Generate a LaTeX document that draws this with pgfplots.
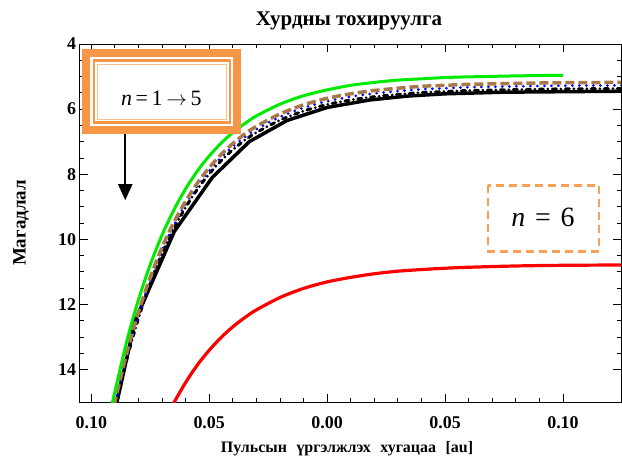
\documentclass[border=0pt]{standalone}
\usepackage{fontspec}
\setmainfont{Liberation Serif}
\usepackage{pgfplots}
\pgfplotsset{compat=1.18}
\usetikzlibrary{arrows.meta}
\definecolor{frameorange}{HTML}{F79646}
\definecolor{curvegreen}{RGB}{0,235,0}
\definecolor{curvebrown}{RGB}{168,120,72}
\definecolor{curveblue}{RGB}{0,0,255}
\definecolor{curvered}{RGB}{255,0,0}

\begin{document}
\begin{tikzpicture}
\begin{axis}[
  at={(0,0)}, anchor=south west,
  scale only axis,
  width=541.5bp, height=358bp,
  xmin=-0.105, xmax=0.1246,
  ymin=4, ymax=15,
  y dir=reverse,
  xtick={-0.1,-0.05,0,0.05,0.1},
  xticklabels={0.10,0.05,0.00,0.05,0.10},
  minor x tick num=4,
  ytick={4,6,8,10,12,14},
  minor y tick num=3,
  tick pos=both, tick align=inside,
  major tick length=8bp, minor tick length=4bp,
  every tick/.style={black, line width=0.8bp},
  axis line style={line width=0.9bp},
  tick label style={font=\bfseries\fontsize{18}{18}\selectfont},
  /pgf/number format/assume math mode=true,
  xticklabel style={yshift=-11bp},
]
% n = 1..5 (black solid, coarse)
\addplot[black, line width=3.5bp, sharp plot] coordinates {
  (-0.0897,15.2) (-0.0891,15.00) (-0.0814,12.50) (-0.0648,9.76) (-0.0487,8.10)
  (-0.033,7.00) (-0.017,6.35) (0.000,5.95) (0.018,5.72) (0.034,5.60)
  (0.050,5.53) (0.075,5.48) (0.125,5.45)
};
% black dash-dot
\addplot[black, line width=3bp, line cap=round, smooth,
  dash pattern=on 4bp off 4.5bp on 0bp off 4.5bp] coordinates {
  (-0.0903,15.30) (-0.0891,14.91) (-0.085,13.70) (-0.080,12.43) (-0.075,11.36)
  (-0.070,10.44) (-0.065,9.67) (-0.060,9.02) (-0.055,8.46) (-0.050,7.99)
  (-0.045,7.59) (-0.040,7.25) (-0.035,6.96) (-0.030,6.72) (-0.020,6.34)
  (-0.010,6.06) (0.000,5.86) (0.010,5.72) (0.020,5.62) (0.030,5.55)
  (0.040,5.49) (0.050,5.46) (0.060,5.43) (0.080,5.40) (0.100,5.38) (0.125,5.37)
};
% blue dotted
\addplot[curveblue, line width=3bp, line cap=round, smooth,
  dash pattern=on 0bp off 7bp] coordinates {
  (-0.0903,15.20) (-0.0891,14.81) (-0.085,13.60) (-0.080,12.33) (-0.075,11.26)
  (-0.070,10.34) (-0.065,9.57) (-0.060,8.92) (-0.055,8.36) (-0.050,7.89)
  (-0.045,7.49) (-0.040,7.15) (-0.035,6.86) (-0.030,6.62) (-0.020,6.24)
  (-0.010,5.96) (0.000,5.76) (0.010,5.62) (0.020,5.52) (0.030,5.45)
  (0.040,5.39) (0.050,5.36) (0.060,5.33) (0.080,5.30) (0.100,5.28) (0.125,5.27)
};
% brown dashed
\addplot[curvebrown, line width=3.5bp, smooth,
  dash pattern=on 9bp off 4bp] coordinates {
  (-0.0903,15.11) (-0.0891,14.72) (-0.085,13.51) (-0.080,12.24) (-0.075,11.17)
  (-0.070,10.25) (-0.065,9.48) (-0.060,8.83) (-0.055,8.27) (-0.050,7.80)
  (-0.045,7.40) (-0.040,7.06) (-0.035,6.77) (-0.030,6.53) (-0.020,6.15)
  (-0.010,5.87) (0.000,5.67) (0.010,5.53) (0.020,5.43) (0.030,5.36)
  (0.040,5.30) (0.050,5.27) (0.060,5.24) (0.080,5.21) (0.100,5.19) (0.125,5.18)
};
% green
\addplot[curvegreen, line width=3bp, smooth] coordinates {
  (-0.0916,15.2) (-0.091,15.00) (-0.085,13.15) (-0.080,11.86) (-0.075,10.78)
  (-0.070,9.87) (-0.065,9.10) (-0.060,8.45) (-0.055,7.90) (-0.050,7.44)
  (-0.045,7.05) (-0.040,6.72) (-0.035,6.45) (-0.030,6.21) (-0.020,5.85)
  (-0.010,5.59) (0.000,5.41) (0.010,5.27) (0.020,5.18) (0.030,5.11)
  (0.040,5.07) (0.050,5.03) (0.060,5.01) (0.080,4.98) (0.100,4.96)
};
% n = 6 (red)
\addplot[curvered, line width=3.2bp, smooth] coordinates {
  (-0.0663,15.2) (-0.0648,15.00) (-0.060,14.40) (-0.055,13.86) (-0.050,13.41)
  (-0.045,13.02) (-0.040,12.69) (-0.035,12.41) (-0.030,12.17) (-0.020,11.79)
  (-0.010,11.51) (0.000,11.31) (0.010,11.17) (0.020,11.06) (0.030,10.98)
  (0.040,10.93) (0.050,10.89) (0.060,10.86) (0.080,10.82) (0.100,10.80) (0.125,10.79)
};
% annotation boxes
\fill[frameorange] (axis cs:-0.1038,4.154) rectangle (axis cs:-0.0364,6.769);
\fill[white] (axis cs:-0.1004,4.40) rectangle (axis cs:-0.0398,6.52);
\draw[frameorange, line width=2.3bp] (axis cs:-0.0989,4.508) rectangle (axis cs:-0.0413,6.415);
\draw[frameorange!60, line width=0.8bp] (axis cs:-0.0975,4.615) rectangle (axis cs:-0.0428,6.31);
\node[font=\fontsize{22}{22}\selectfont, anchor=base] at (axis cs:-0.0703,5.88)
  {\textit{n}\,=\,1\,$\rightarrow$\,5};
\draw[black, line width=2bp, -{Triangle[width=14bp,length=16bp]}]
  (axis cs:-0.0856,6.77) -- (axis cs:-0.0856,8.8);
\draw[frameorange!90, line width=2.5bp, dash pattern=on 8bp off 5bp]
  (axis cs:0.0682,8.34) rectangle (axis cs:0.1153,10.37);
\node[font=\fontsize{28}{28}\selectfont] at (axis cs:0.0915,9.32)
  {\textit{n}\hspace{0.35em}=\hspace{0.35em}6};
\end{axis}
\node[font=\bfseries\fontsize{21}{21}\selectfont, anchor=base] at (269.5bp,376bp)
  {Хурдны тохируулга};
\node[font=\bfseries\fontsize{19}{19}\selectfont, rotate=90] at (-58.5bp,179bp)
  {Магадлал};
\node[font=\bfseries\fontsize{16}{16}\selectfont, anchor=base] at (267.5bp,-50bp)
  {Пульсын\hspace{0.6em}үргэлжлэх\hspace{0.6em}хугацаа\hspace{0.6em}[au]};
\pgfresetboundingbox
\path[use as bounding box] (-79.5bp,-59bp) rectangle (542.5bp,402bp);
\end{tikzpicture}
\end{document}
